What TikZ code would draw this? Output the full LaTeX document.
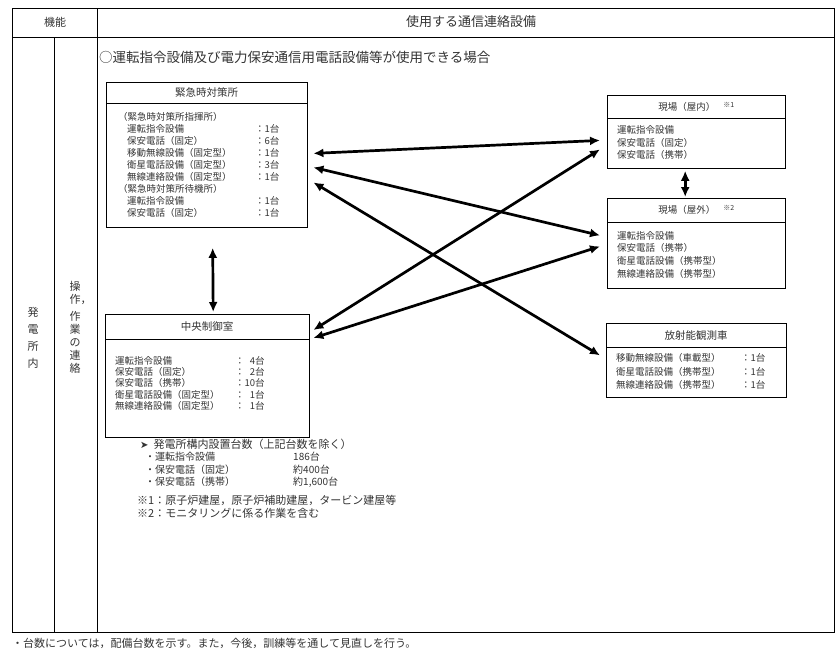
\documentclass[tikz,border=0pt]{standalone}
\usepackage{fontspec}
\setmainfont{Noto Sans CJK JP}
\newfontfamily\symfont{DejaVu Sans}
\usepackage{tikz}
\usetikzlibrary{positioning}
\usetikzlibrary{arrows.meta}

\tikzset{
  memo/.style={inner sep=0pt, text=black!80},
  titlebox/.style={draw, anchor=north west, inner sep=0pt, text=black!80,
    font=\fontsize{10.5}{12}\selectfont},
  listbox/.style={draw, below=0pt of #1, inner xsep=10pt, inner ysep=0pt,
    align=left, text=black!80, font=\fontsize{9.5}{12}\selectfont},
  link/.style={{Latex[length=10pt,width=9pt]}-{Latex[length=10pt,width=9pt]},
    line width=2.7pt}
}

\begin{document}
\begin{tikzpicture}[x=1pt,y=-1pt]
  \useasboundingbox (0,0) rectangle (838,651);
  % table
  \draw [line width=0.9pt] (12,8) rectangle (834,632);
  \draw [line width=0.9pt] (12,37) -- (834,37);
  \draw [line width=0.9pt] (97,8) -- (97,632);
  \draw [line width=0.9pt] (54,37) -- (54,632);
  \node [memo, font=\fontsize{11}{12}\selectfont] (kino) at (55,22) {機能};
  \node [memo, font=\fontsize{13}{14}\selectfont] (setsubi) at (471,22) {使用する通信連絡設備};
  \node [memo, align=center, font=\fontsize{11}{17}\selectfont] (shonai) at (33,338) {発\\電\\所\\内};
  \node [memo, align=center, font=\fontsize{11}{13}\selectfont] (sosa) at (75,327)
    {操\\作\rlap{，}\\[4pt]作\\業\\の\\連\\絡};
  \node [memo, anchor=west, font=\fontsize{13.5}{15}\selectfont] (joken) at (99,57)
    {○運転指令設備及び電力保安通信用電話設備等が使用できる場合};

  % boxes
  \node [titlebox, minimum width=201pt, minimum height=21pt] (kinkyu) at (106,82) {緊急時対策所};
  \node [listbox=kinkyu, text width=177pt, inner xsep=12pt, minimum height=124pt] (kinkyubody) {%
    \begin{tabular}{@{}p{137pt}@{}l@{}}
    （緊急時対策所指揮所）&\\
    \hspace{9pt}運転指令設備&：1台\\
    \hspace{9pt}保安電話（固定）&：6台\\
    \hspace{9pt}移動無線設備（固定型）&：1台\\
    \hspace{9pt}衛星電話設備（固定型）&：3台\\
    \hspace{9pt}無線連絡設備（固定型）&：1台\\
    （緊急時対策所待機所）&\\
    \hspace{9pt}運転指令設備&：1台\\
    \hspace{9pt}保安電話（固定）&：1台
    \end{tabular}};

  \node [titlebox, minimum width=204pt, minimum height=25pt] (chuo) at (105,314) {中央制御室};
  \node [listbox=chuo, text width=184pt, minimum height=98pt,
    font=\fontsize{9.5}{10.8}\selectfont] (chuobody) {%
    \begin{tabular}{@{}p{120pt}@{}l@{}r@{}}
    運転指令設備&：&4台\\
    保安電話（固定）&：&2台\\
    保安電話（携帯）&：&10台\\
    衛星電話設備（固定型）&：&1台\\
    無線連絡設備（固定型）&：&1台\\[8pt]
    \end{tabular}};

  \node [titlebox, minimum width=178pt, minimum height=23pt, font=\fontsize{9.5}{11}\selectfont] (okunai) at (607,95)
    {現場（屋内）\hspace{8pt}\raisebox{3pt}{\fontsize{7}{7}\selectfont ※1}};
  \node [listbox=okunai, text width=158pt, minimum height=50pt,
    font=\fontsize{9.5}{12.5}\selectfont] (okunaibody) {%
    \begin{tabular}{@{}l@{}}
    運転指令設備\\
    保安電話（固定）\\
    保安電話（携帯）
    \end{tabular}};

  \node [titlebox, minimum width=178pt, minimum height=24pt, font=\fontsize{9.5}{11}\selectfont] (okugai) at (607,198)
    {現場（屋外）\hspace{8pt}\raisebox{3pt}{\fontsize{7}{7}\selectfont ※2}};
  \node [listbox=okugai, text width=158pt, minimum height=66pt,
    font=\fontsize{9.5}{12.7}\selectfont] (okugaibody) {%
    \begin{tabular}{@{}l@{}}
    運転指令設備\\
    保安電話（携帯）\\
    衛星電話設備（携帯型）\\
    無線連絡設備（携帯型）
    \end{tabular}};

  \node [titlebox, minimum width=180pt, minimum height=24pt] (hoshano) at (606,323) {放射能観測車};
  \node [listbox=hoshano, text width=160pt, minimum height=50pt,
    font=\fontsize{9.5}{13.5}\selectfont] (hoshanobody) {%
    \begin{tabular}{@{}p{125pt}@{}l@{}}
    移動無線設備（車載型）&：1台\\
    衛星電話設備（携帯型）&：1台\\
    無線連絡設備（携帯型）&：1台
    \end{tabular}};

  % arrows
  \draw [link] ([xshift=6pt,yshift=-50pt]kinkyubody.north east) -- ([xshift=-7pt,yshift=-22pt]okunaibody.north west);
  \draw [link] ([xshift=6pt,yshift=-64pt]kinkyubody.north east) -- ([xshift=-7pt,yshift=-13pt]okugaibody.north west);
  \draw [link] ([xshift=6pt,yshift=-79pt]kinkyubody.north east) -- ([xshift=-6pt,yshift=-8pt]hoshanobody.north west);
  \draw [link] ([xshift=4pt,yshift=-16pt]chuo.north east) -- ([xshift=-7pt,yshift=-31pt]okunaibody.north west);
  \draw [link] ([xshift=4pt,yshift=-24pt]chuo.north east) -- ([xshift=-7pt,yshift=-24pt]okugaibody.north west);
  \draw [link] ([xshift=6pt,yshift=-20pt]kinkyubody.south) -- ([xshift=6pt,yshift=2pt]chuo.north);
  \draw [link] ([xshift=-11pt,yshift=-2pt]okunaibody.south) -- ([xshift=-11pt,yshift=1pt]okugai.north);

  % notes
  \node [memo, anchor=north west, font=\fontsize{10}{12.3}\selectfont] (setti) at (140,439) {%
    \begin{tabular}{@{}p{153pt}@{}l@{}}
    {\symfont ➤}\hspace{5pt}{\fontsize{11}{12.3}\selectfont 発電所構内設置台数（上記台数を除く）}&\\
    \hspace{5pt}・運転指令設備&186台\\
    \hspace{5pt}・保安電話（固定）&約400台\\
    \hspace{5pt}・保安電話（携帯）&約1,600台
    \end{tabular}};
  \node [memo, anchor=north west, font=\fontsize{11}{11.5}\selectfont] (kome) at (137,495) {%
    \begin{tabular}{@{}l@{}}
    ※1：原子炉建屋，原子炉補助建屋，タービン建屋等\\
    ※2：モニタリングに係る作業を含む
    \end{tabular}};
  \node [memo, anchor=west, font=\fontsize{11}{12}\selectfont] (chui) at (12,643)
    {・台数については，配備台数を示す。また，今後，訓練等を通して見直しを行う。};
\end{tikzpicture}
\end{document}
